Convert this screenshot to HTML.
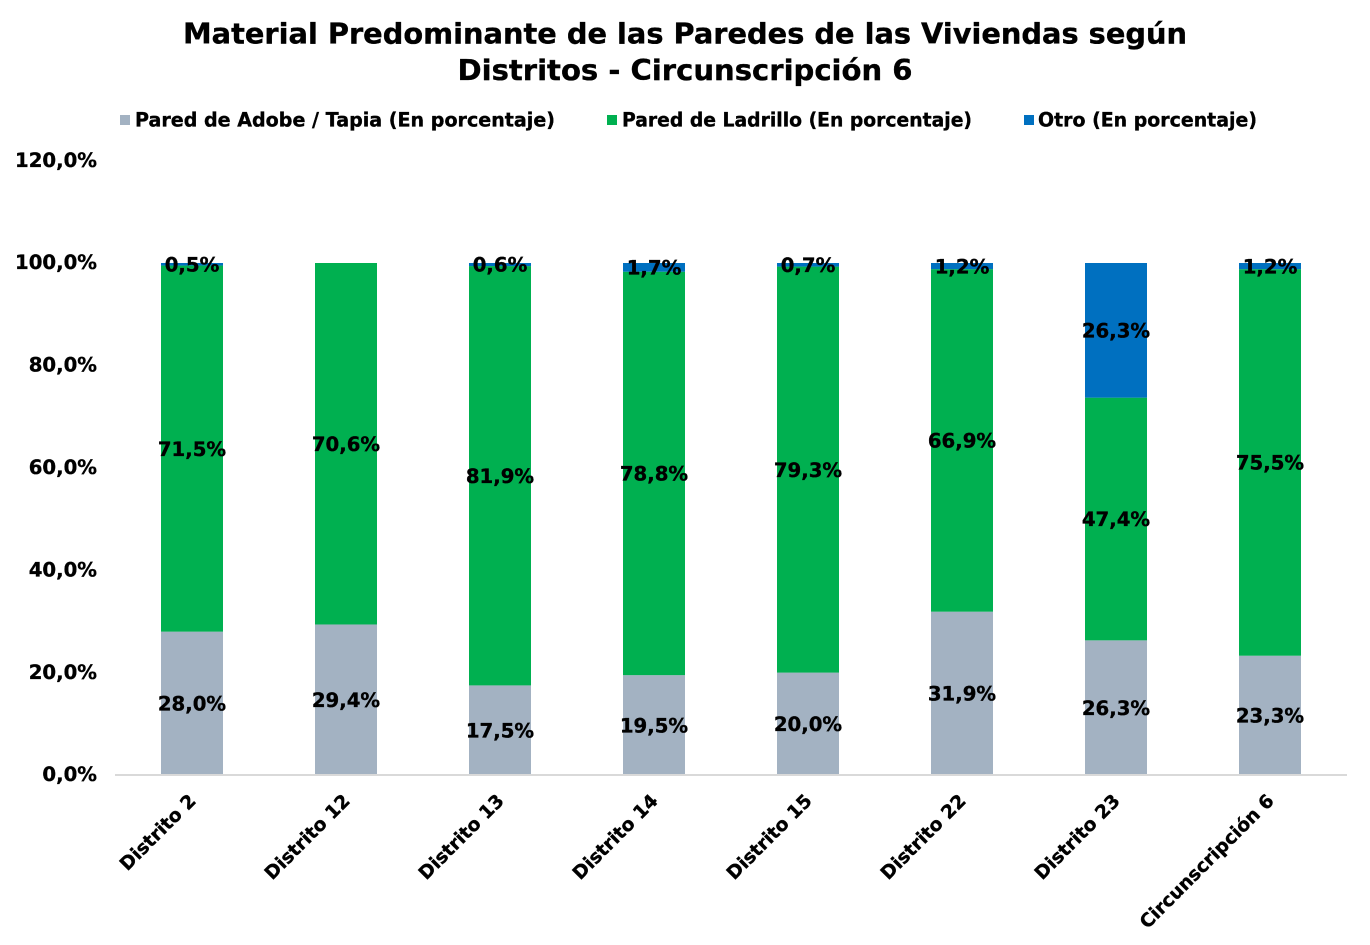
<!DOCTYPE html>
<html lang="es">
<head>
<meta charset="utf-8">
<title>Material Predominante de las Paredes</title>
<style>
html,body{margin:0;padding:0;background:#fff;width:1370px;height:945px;overflow:hidden}
svg{display:block}
text{font-family:"DejaVu Sans","Liberation Sans",sans-serif;font-weight:bold;fill:#000;stroke:#000;stroke-width:0.35px}
</style>
</head>
<body>
<svg id="chart" width="1370" height="945" viewBox="0 0 1370 945" xmlns="http://www.w3.org/2000/svg">
<rect x="0" y="0" width="1370" height="945" fill="#fff"/>
<text x="685" y="43.5" font-size="28.5" text-anchor="middle" textLength="1004" lengthAdjust="spacingAndGlyphs">Material Predominante de las Paredes de las Viviendas según</text>
<text x="685" y="80" font-size="28.5" text-anchor="middle" textLength="455" lengthAdjust="spacingAndGlyphs">Distritos - Circunscripción 6</text>
<g>
<g>
<rect x="120" y="115" width="10" height="10" fill="#a3b2c2"/>
<text x="135" y="126.5" font-size="19.5" textLength="420" lengthAdjust="spacingAndGlyphs">Pared de Adobe / Tapia (En porcentaje)</text>
</g>
<g>
<rect x="607" y="115" width="10" height="10" fill="#00b050"/>
<text x="622" y="126.5" font-size="19.5" textLength="350" lengthAdjust="spacingAndGlyphs">Pared de Ladrillo (En porcentaje)</text>
</g>
<g>
<rect x="1024" y="115" width="10" height="10" fill="#0070c0"/>
<text x="1038" y="126.5" font-size="19.5" textLength="219" lengthAdjust="spacingAndGlyphs">Otro (En porcentaje)</text>
</g>
</g>
<g id="plot"></g>
</svg>
<script>
const categories = ["Distrito 2","Distrito 12","Distrito 13","Distrito 14","Distrito 15","Distrito 22","Distrito 23","Circunscripción 6"];
const adobeValues = [28.0,29.4,17.5,19.5,20.0,31.9,26.3,23.3];
const ladrilloValues = [71.5,70.6,81.9,78.8,79.3,66.9,47.4,75.5];
const otroValues = [0.5,0,0.6,1.7,0.7,1.2,26.3,1.2];
const yTicks = [0,20,40,60,80,100,120];

const NS = "http://www.w3.org/2000/svg";
const plot = document.getElementById("plot");
const Y0 = 775, PX_PER_UNIT = 5.12;
const X0 = 192, STEP = 154, BAR_W = 62;
function yScale(v){ return Y0 - v * PX_PER_UNIT; }
function xScale(i){ return X0 + i * STEP; }
function fmt(v){ return v.toFixed(1).replace(".", ",") + "%"; }
function make(tag, attrs, text){
  const el = document.createElementNS(NS, tag);
  for (const k in attrs) el.setAttribute(k, attrs[k]);
  if (text !== undefined) el.textContent = text;
  plot.appendChild(el);
  return el;
}
const series = [
  {key:"adobe", values:adobeValues, color:"#a3b2c2"},
  {key:"ladrillo", values:ladrilloValues, color:"#00b050"},
  {key:"otro", values:otroValues, color:"#0070c0"}
];
yTicks.forEach(function(t){
  const el = make("text", {x:97, y:yScale(t)+6.2, "font-size":19.7, "text-anchor":"end"}, fmt(t));
  
  
});
categories.forEach(function(cat, i){
  let base = 0;
  series.forEach(function(s){
    const v = s.values[i];
    if (v > 0) {
      const r = make("rect", {x:xScale(i)-BAR_W/2, y:yScale(base+v), width:BAR_W, height:v*PX_PER_UNIT, fill:s.color});
      
      
    }
    base += v;
  });
  base = 0;
  series.forEach(function(s){
    const v = s.values[i];
    if (v > 0) {
      const l = make("text", {x:xScale(i), y:yScale(base+v/2)+7.2, "font-size":19.7, "text-anchor":"middle"}, fmt(v));
      
      
    }
    base += v;
  });
  const px = xScale(i) + 5, py = 802;
  const c = make("text", {x:0, y:0, "font-size":18.6, "text-anchor":"end", transform:"translate("+px+" "+py+") rotate(-45)"}, cat);
  
  
});
const axis = make("line", {x1:115, x2:1347, y1:775, y2:775, stroke:"#d9d9d9", "stroke-width":2});


</script>
</body>
</html>
